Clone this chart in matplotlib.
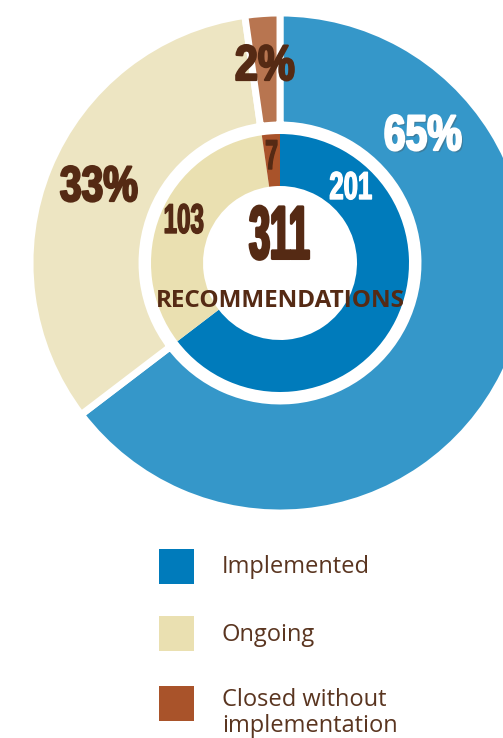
import matplotlib.pyplot as plt
from matplotlib.patches import Rectangle
from matplotlib.transforms import Affine2D
import matplotlib.patheffects as pe

# data
categories = ['Implemented', 'Ongoing', 'Closed without\nimplementation']
counts = [201, 103, 7]
percents = ['65%', '33%', '2%']
total = 311

outer_colors = ['#3597C9', '#EDE5C2', '#B87550']
inner_colors = ['#007BBB', '#EAE0B1', '#A9532A']
legend_colors = ['#007BBB', '#EAE0B1', '#A9532A']
dark = '#552A14'

num_font = ['Liberation Sans', 'DejaVu Sans']
sans = ['Open Sans', 'DejaVu Sans']


# squeeze glyphs horizontally around their centre (the font in the
# original is a condensed display face we don't have)
class Squeeze(pe.AbstractPathEffect):
    def __init__(self, sx, effects=None):
        super().__init__()
        self.sx = sx
        self.effects = effects or [pe.Normal()]

    def draw_path(self, renderer, gc, tpath, affine, rgbFace=None):
        xs = tpath.vertices[:, 0]
        mid = (xs.min() + xs.max()) / 2 if len(xs) else 0
        squeeze = Affine2D().translate(-mid, 0).scale(self.sx, 1).translate(mid, 0)
        for eff in self.effects:
            eff.draw_path(renderer, gc, tpath, squeeze + affine, rgbFace)


def heavy(color, lw=1.6):
    return [pe.Stroke(linewidth=lw, foreground=color), pe.Normal()]


W, H = 503, 738
fig = plt.figure(figsize=(W / 100, H / 100), dpi=100)
ax = fig.add_axes([0, 0, 1, 1])

cx, cy = 280, H - 263

# outer ring (percent)
ax.pie(counts, radius=250, center=(cx, cy), startangle=90, counterclock=False,
       colors=outer_colors,
       wedgeprops=dict(width=112, edgecolor='white', linewidth=5))
# inner ring (counts)
ax.pie(counts, radius=129, center=(cx, cy), startangle=90, counterclock=False,
       colors=inner_colors,
       wedgeprops=dict(width=52, edgecolor='none', linewidth=0))

ax.set_xlim(0, W)
ax.set_ylim(0, H)
ax.set_aspect('equal')
ax.axis('off')

# outer labels
pct_pos = [(423, 137), (99, 188), (265, 67)]
pct_col = ['white', dark, dark]
pct_sx = [0.78, 0.78, 0.83]
for (x, y), t, c, sx in zip(pct_pos, percents, pct_col, pct_sx):
    effs = heavy(c)
    if c == 'white':
        effs = [pe.SimplePatchShadow(offset=(1.5, -1.5), alpha=0.35)] + effs
    ax.text(x, H - y, t, ha='center', va='center', fontsize=36,
            fontweight='bold', family=num_font, color=c,
            path_effects=[Squeeze(sx, effs)])

# inner labels
cnt_pos = [(351, 189), (184, 222), (272, 158)]
cnt_col = ['white', dark, dark]
cnt_size = [28, 30, 30]
cnt_sx = [0.66, 0.58, 0.55]
for (x, y), v, c, fs, sx in zip(cnt_pos, counts, cnt_col, cnt_size, cnt_sx):
    ax.text(x, H - y, str(v), ha='center', va='center', fontsize=fs,
            fontweight='bold', family=num_font, color=c,
            path_effects=[Squeeze(sx, heavy(c, 1.0))])

# centre
ax.text(cx, H - 239, str(total), ha='center', va='center', fontsize=54,
        fontweight='bold', family=num_font, color=dark,
        path_effects=[Squeeze(0.5, heavy(dark, 2.2))])
ax.text(cx, H - 301, 'RECOMMENDATIONS', ha='center', va='center', fontsize=17.5,
        fontweight='bold', family=sans, color=dark)

# legend
box_y = [549, 616, 686]
text_y = [567, 635, 713]
for by, ty, col, lab in zip(box_y, text_y, legend_colors, categories):
    ax.add_patch(Rectangle((159, H - by - 35), 35, 35, facecolor=col, edgecolor='none'))
    ax.text(222, H - ty, lab, ha='left', va='center', fontsize=17,
            family=sans, color='#5A3520', linespacing=1.15)

fig.savefig('out.png', dpi=100)
